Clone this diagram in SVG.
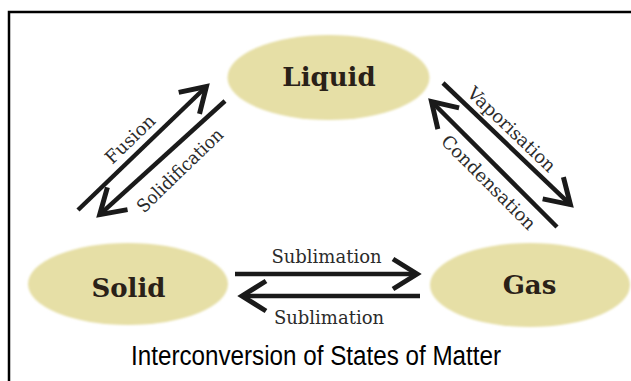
<svg xmlns="http://www.w3.org/2000/svg" width="631" height="381" viewBox="0 0 631 381">
<style>
.node { fill: #e6dfa6; }
.nlabel { font-family: "DejaVu Serif", "Liberation Serif", serif; font-weight: bold; font-size: 26px; fill: #2a2118; text-anchor: middle; }
.conn { stroke: #1a1a1a; stroke-width: 4.5; fill: none; stroke-linecap: butt; marker-end: url(#ah); }
.elabel { font-family: "DejaVu Serif", "Liberation Serif", serif; font-size: 18px; fill: #2b2b2b; text-anchor: middle; }
.title { font-family: "Liberation Sans", Arial, sans-serif; font-size: 27px; fill: #000; text-anchor: middle; }
</style>
<defs>
<filter id="soft" x="-10%" y="-10%" width="120%" height="120%"><feGaussianBlur stdDeviation="1.2"/></filter>
<marker id="ah" markerUnits="userSpaceOnUse" viewBox="-30 -20 40 40" markerWidth="40" markerHeight="40" refX="0" refY="0" orient="auto" overflow="visible">
<path d="M-24,-15 L0,0 L-24,15" fill="none" stroke="#1a1a1a" stroke-width="5" stroke-linejoin="miter"/>
</marker>
</defs>
<rect width="631" height="381" fill="#fff"/>
<path d="M9,381 V12 H631" fill="none" stroke="#000" stroke-width="2.5"/>

<g id="node-liquid">
<ellipse class="node" cx="328.5" cy="77.5" rx="101" ry="42.5" filter="url(#soft)"/>
<text class="nlabel" x="329" y="85.5">Liquid</text>
</g>
<g id="node-solid">
<ellipse class="node" cx="128" cy="284" rx="100" ry="41" filter="url(#soft)"/>
<text class="nlabel" x="128.5" y="297">Solid</text>
</g>
<g id="node-gas">
<ellipse class="node" cx="530" cy="285" rx="100" ry="42" filter="url(#soft)"/>
<text class="nlabel" x="529.5" y="294">Gas</text>
</g>

<g id="connectors">
<line class="conn" x1="78" y1="210" x2="206.4" y2="86.5"/>
<line class="conn" x1="225" y1="101" x2="99.7" y2="214.6"/>
<line class="conn" x1="443" y1="83" x2="570.4" y2="204.6"/>
<line class="conn" x1="557" y1="227" x2="431.5" y2="101.5"/>
<line class="conn" x1="235" y1="274" x2="417" y2="274"/>
<line class="conn" x1="420" y1="296" x2="242" y2="296"/>
</g>

<g id="connector-labels">
<text class="elabel" x="134.5" y="143.6" transform="rotate(-44 134.5 143.6)">Fusion</text>
<text class="elabel" x="184.2" y="174.8" transform="rotate(-44 184.2 174.8)" textLength="112" lengthAdjust="spacingAndGlyphs">Solidification</text>
<text class="elabel" x="507.4" y="133.8" transform="rotate(43.6 507.4 133.8)">Vaporisation</text>
<text class="elabel" x="484.2" y="186.8" transform="rotate(45 484.2 186.8)">Condensation</text>
<text class="elabel" x="326.5" y="263">Sublimation</text>
<text class="elabel" x="329" y="324">Sublimation</text>
</g>

<text class="title" x="316" y="365" textLength="370" lengthAdjust="spacingAndGlyphs">Interconversion of States of Matter</text>
</svg>
